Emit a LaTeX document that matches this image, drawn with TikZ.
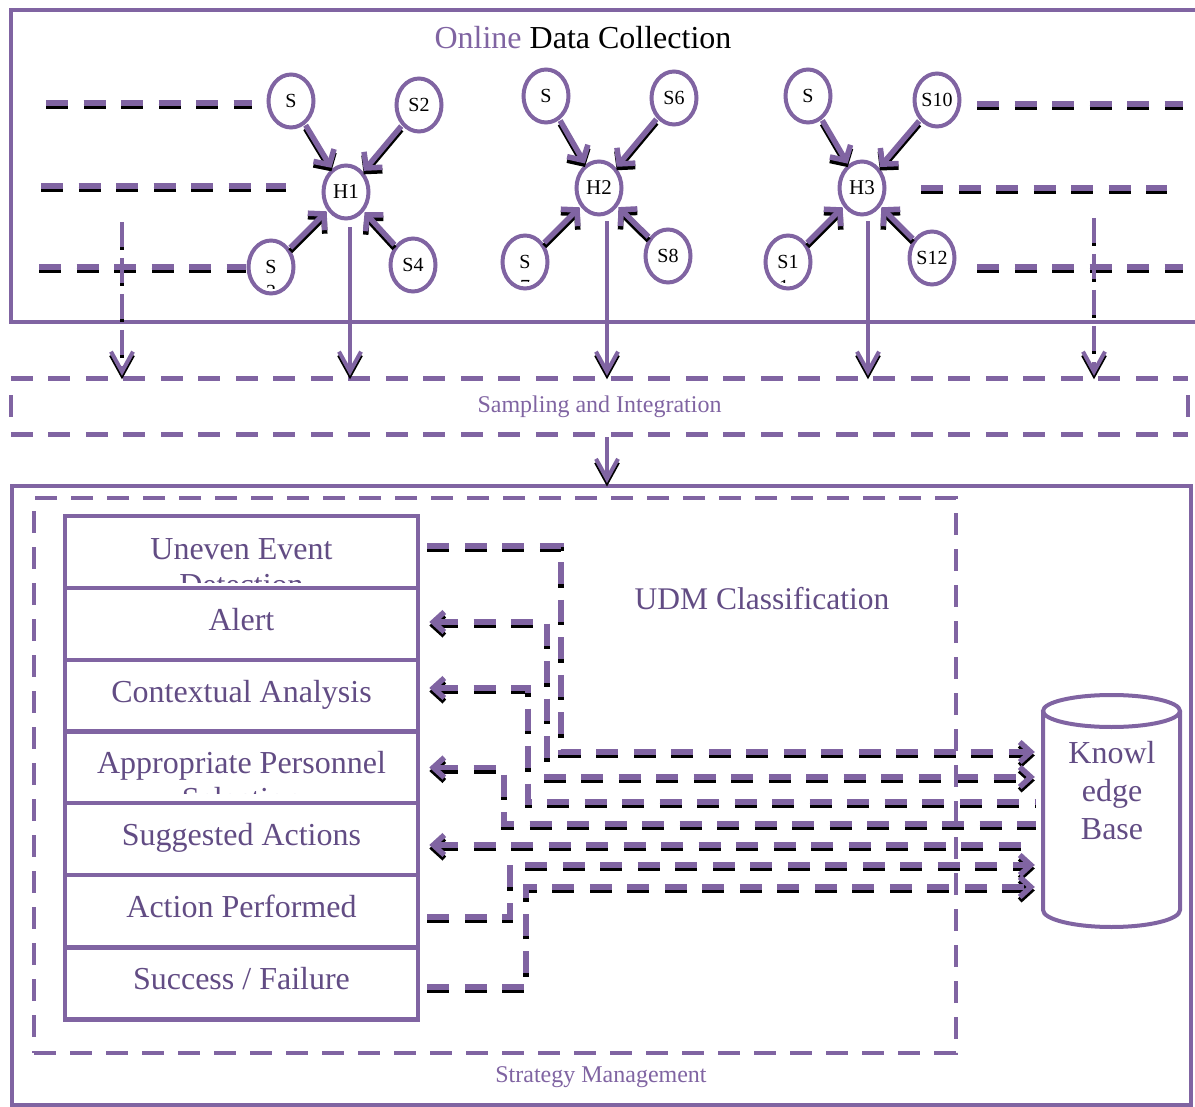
\documentclass[tikz,border=0pt]{standalone}
\usepackage{fontspec}
\setmainfont{Liberation Serif}
\usetikzlibrary{arrows.meta,shapes.geometric,calc}
\definecolor{upurple}{RGB}{128,100,162}
\definecolor{tpurple}{RGB}{98,76,132}
% draw a path twice: black copy shifted down, purple on top
\newcommand\shdraw[2]{%
  \draw[#1, draw=black, transform canvas={yshift=-3.5pt}] #2;
  \draw[#1] #2;}
\begin{document}
\begin{tikzpicture}[x=1pt,y=-1pt,
  dsh/.style={draw=upurple, line width=5.5pt, dash pattern=on 22pt off 15.5pt},
  vdsh/.style={draw=upurple, line width=4pt, dash pattern=on 25pt off 11pt},
  solidl/.style={draw=upurple, line width=4pt},
  frame/.style={draw=upurple, line width=4pt},
  snode/.style={ellipse, draw=upurple, line width=4pt, fill=white, minimum width=45pt, minimum height=53pt, inner sep=0pt, font=\fontsize{20}{23}\selectfont},
  sarr/.style={draw=upurple, line width=5.5pt, -{Straight Barb[length=11pt,width=24pt]}, shorten <=1pt, shorten >=1pt},
  downarr/.style={-{Straight Barb[length=20pt,width=22pt]}, shorten >=3pt},
  ctip/.tip={Straight Barb[length=11pt,width=20pt]},
  stack/.style={rectangle, draw=upurple, line width=4.5pt, fill=white, minimum width=353pt, minimum height=72pt, inner sep=0pt},
  lbl/.style={anchor=base, text=tpurple, font=\fontsize{32}{36}\selectfont, inner sep=0pt},
  small/.style={text=upurple, font=\fontsize{24}{28}\selectfont, inner sep=0pt},
  sampdash/.style={draw=upurple, line width=5pt, dash pattern=on 22pt off 15.5pt}
]
\useasboundingbox (0,0) rectangle (1195,1107);

% ---------- Online Data Collection ----------
\draw[frame] (1197,10) -- (11,10) -- (11,322) -- (1197,322);
\node[anchor=base, font=\fontsize{32}{36}\selectfont, inner sep=0pt] (title) at (583,49) {\textcolor{upurple}{Online} Data Collection};

% dashed rows
\coordinate (r1a) at (46,103);  \coordinate (r1b) at (252,103);
\coordinate (r2a) at (41,186);  \coordinate (r2b) at (286,186);
\coordinate (r3a) at (39,267);  \coordinate (r3b) at (246,267);
\coordinate (q1a) at (977,104); \coordinate (q1b) at (1183,104);
\coordinate (q2a) at (921,188); \coordinate (q2b) at (1167,188);
\coordinate (q3a) at (977,267); \coordinate (q3b) at (1183,267);
\shdraw{dsh}{(r1a) -- (r1b)}
\shdraw{dsh}{(r2a) -- (r2b)}
\shdraw{dsh}{(r3a) -- (r3b)}
\shdraw{dsh}{(q1a) -- (q1b)}
\shdraw{dsh}{(q2a) -- (q2b)}
\shdraw{dsh}{(q3a) -- (q3b)}

% sensor nodes
\node[snode] (S1) at (291,101) {S};
\node[snode] (S2) at (419,105) {S2};
\node[snode] (H1) at (346,192) {\fontsize{21}{24}\selectfont H1};
\node[snode] (S3) at (271,267) {S};
\node[snode] (S4) at (413,265) {S4};
\node[snode] (S5) at (546,96) {S};
\node[snode] (S6) at (674,98) {S6};
\node[snode] (H2) at (599,188) {\fontsize{21}{24}\selectfont H2};
\node[snode] (S7) at (525,262) {S};
\node[snode] (S8) at (668,256) {S8};
\node[snode] (S9) at (808,96) {S};
\node[snode] (S10) at (937,100) {S10};
\node[snode] (H3) at (862,188) {\fontsize{21}{24}\selectfont H3};
\node[snode] (S11) at (788,262) {S1};
\node[snode] (S12) at (932,258) {S12};

% clipped second lines
\begin{scope}
  \clip ($(S3.center)+(-20,0)$) rectangle ($(S3.center)+(20,22)$);
  \node[anchor=base, font=\fontsize{20}{23}\selectfont, inner sep=0pt] at ($(S3.center)+(0,32)$) {3};
\end{scope}
\begin{scope}
  \clip ($(S7.center)+(-20,0)$) rectangle ($(S7.center)+(20,20)$);
  \node[anchor=base, font=\fontsize{20}{23}\selectfont, inner sep=0pt] at ($(S7.center)+(0,32)$) {7};
\end{scope}
\begin{scope}
  \clip ($(S11.center)+(-20,0)$) rectangle ($(S11.center)+(20,21)$);
  \node[anchor=base, font=\fontsize{20}{23}\selectfont, inner sep=0pt] at ($(S11.center)+(-4,32)$) {1};
\end{scope}

% sensor -> hub arrows
\foreach \s/\h in {S1/H1,S2/H1,S3/H1,S4/H1,S5/H2,S6/H2,S7/H2,S8/H2,S9/H3,S10/H3,S11/H3,S12/H3}
  {\shdraw{sarr}{(\s) -- (\h)}}

% ---------- Sampling and Integration ----------
\node[minimum width=1177pt, minimum height=55pt, inner sep=0pt, small] (samp) at (599.5,406.5) {Sampling and Integration};
\draw[sampdash] (samp.north west) -- (samp.north east);
\draw[sampdash] (samp.south west) -- (samp.south east);
\draw[solidl] ([yshift=11pt]samp.west) -- ([yshift=-11pt]samp.west);
\draw[solidl] ([yshift=11pt]samp.east) -- ([yshift=-11pt]samp.east);

% arrows from hubs down
\path ([xshift=4pt]H1.south) coordinate (h1d);
\path ([xshift=8pt]H2.south) coordinate (h2d);
\path ([xshift=6pt]H3.south) coordinate (h3d);
\coordinate (vl) at (122,222);
\coordinate (vr) at (1094,218);
\shdraw{solidl, downarr, shorten <=7pt}{(h1d) -- (h1d |- samp.north)}
\shdraw{solidl, downarr, shorten <=5pt}{(h2d) -- (h2d |- samp.north)}
\shdraw{solidl, downarr, shorten <=5pt}{(h3d) -- (h3d |- samp.north)}
\shdraw{vdsh, downarr}{(vl) -- (vl |- samp.north)}
\shdraw{vdsh, downarr}{(vr) -- (vr |- samp.north)}

% ---------- Strategy Management ----------
\node[rectangle, draw=upurple, line width=4pt, minimum width=1179pt, minimum height=619pt, inner sep=0pt] (strat) at (601.5,795.5) {};
\node[small] (stratlbl) at (601,1077) {Strategy Management};
\shdraw{solidl, -{Straight Barb[length=20pt,width=22pt]}, shorten <=3pt, shorten >=1pt}{(samp.south -| 607,0) -- (strat.north -| 607,0)}

% stack of boxes
\node[stack] (b1) at (241.5,552) {};
\begin{scope}
  \clip (60,520) rectangle (425,582);
  \node[lbl] (t1) at (241.5,559) {\begin{tabular}[t]{@{}c@{}}Uneven Event\\Detection\end{tabular}};
\end{scope}
\node[stack] (b2) at (241.5,624) {};
\node[lbl] (t2) at (241.5,630) {Alert};
\node[stack] (b3) at (241.5,696) {};
\node[lbl] (t3) at (241.5,702) {Contextual Analysis};
\node[stack] (b4) at (241.5,767.5) {};
\begin{scope}
  \clip (60,735) rectangle (425,793);
  \node[lbl] (t4) at (241.5,773) {\begin{tabular}[t]{@{}c@{}}Appropriate Personnel\\Selection\end{tabular}};
\end{scope}
\node[stack] (b5) at (241.5,839) {};
\node[lbl] (t5) at (241.5,845) {Suggested Actions};
\node[stack] (b6) at (241.5,911) {};
\node[lbl] (t6) at (241.5,917) {Action Performed};
\node[stack] (b7) at (241.5,983.5) {};
\node[lbl] (t7) at (241.5,989) {Success / Failure};

% knowledge base
\node[minimum width=137pt, minimum height=216pt, inner sep=0pt] (kb) at (1111.5,819) {};
\draw[solidl] (1043,711) -- (1043,910) arc[start angle=180, end angle=0, x radius=68.5, y radius=17] -- (1180,711);
\draw[solidl] (1111.5,711) ellipse [x radius=68.5, y radius=16];
\node[lbl] (kbt) at (1112,763) {\fontsize{32}{38}\selectfont\begin{tabular}[t]{@{}c@{}}Knowl\\edge\\Base\end{tabular}};

% connectors
\shdraw{dsh, -ctip, shorten <=7pt, shorten >=8pt}{([yshift=6pt]b1.east) -- (561,546) -- (561,752) -- (kb.west |- 0,752)}
\shdraw{dsh, ctip-ctip, shorten <=9pt, shorten >=8pt}{([yshift=2pt]b2.east) -- (547,622) -- (547,777) -- (kb.west |- 0,777)}
\shdraw{dsh, ctip-, shorten <=9pt, shorten >=7pt}{([yshift=8pt]b3.east) -- (528,688) -- (528,802) -- (kb.west |- 0,802)}
\shdraw{dsh, ctip-, shorten <=9pt, shorten >=7pt}{(b4.east) -- (504,767.5) -- (504,824) -- (kb.west |- 0,824)}
\shdraw{dsh, ctip-, shorten <=9pt, shorten >=7pt}{([yshift=-6pt]b5.east) -- (kb.west |- 0,845)}
\shdraw{dsh, -ctip, shorten <=7pt, shorten >=8pt}{([yshift=-6pt]b6.east) -- (510,917) -- (510,865) -- (kb.west |- 0,865)}
\shdraw{dsh, -ctip, shorten <=7pt, shorten >=8pt}{([yshift=-3.5pt]b7.east) -- (526,987) -- (526,887) -- (kb.west |- 0,887)}

% UDM classification dashed box
\node[rectangle, draw=upurple, line width=4pt, dash pattern=on 22pt off 14pt, minimum width=922pt, minimum height=555pt, inner sep=0pt] (udm) at (495,775.5) {};
\node[lbl, font=\fontsize{31.5}{36}\selectfont] (udmt) at (762,609) {UDM Classification};
\end{tikzpicture}
\end{document}
